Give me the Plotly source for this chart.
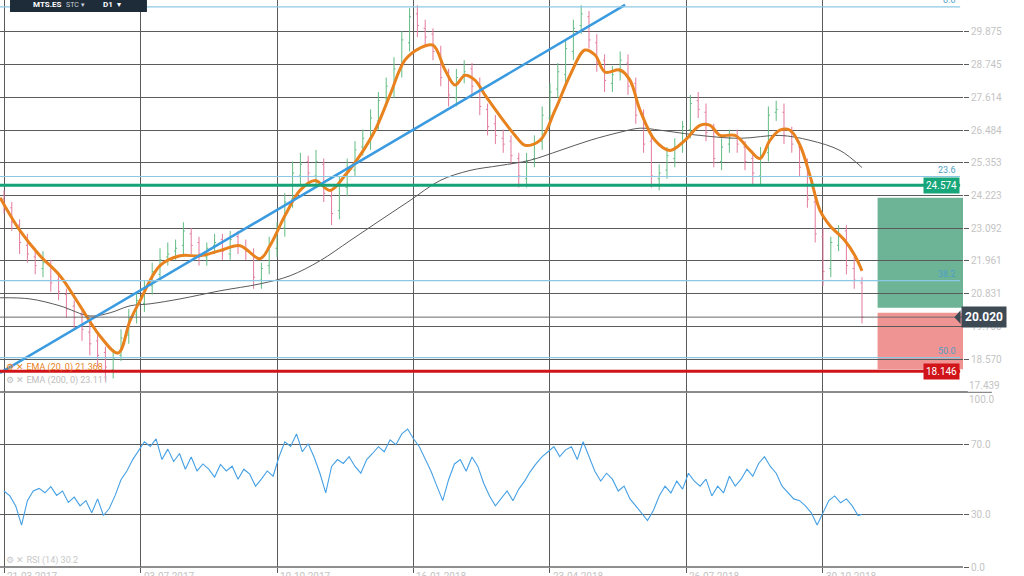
import plotly.graph_objects as go

# ---------------- data ----------------
bar_idx = list(range(0, 441, 4))
open_ = [24.1,23.8,23.2,22.5,22.1,21.7,21.8,21.3,20.8,20.4,
         20.1,19.5,19.2,18.8,18.2,18.7,19.4,20.1,20.5,21.1,
         21.5,22.1,22.3,22.5,22.9,22.6,22.1,22.5,22.7,22.2,
         22.8,22.4,22.2,21.3,21.8,22.4,23.1,24.1,24.9,25.4,
         24.9,25.3,24.2,23.7,24.5,25.1,25.9,26.1,26.8,27.6,
         27.9,28.7,29.5,30.5,30.0,29.8,29.1,28.4,27.6,28.4,
         28.6,28.1,27.2,26.7,26.2,26.1,25.5,24.8,25.5,26.1,
         26.9,27.9,28.4,29.2,30.1,30.4,29.5,28.9,28.1,28.5,
         28.8,28.1,26.9,26.1,24.8,25.1,25.5,26.0,26.5,27.5,
         27.1,26.5,25.4,26.0,26.3,25.9,25.5,24.9,25.7,27.1,
         27.1,26.4,25.9,25.3,24.0,22.8,21.7,22.5,23.0,21.7,
         21.2]
high = [24.4,24.0,23.4,22.9,22.4,22.3,22.0,21.5,21.0,20.6,
        20.3,19.8,19.4,19.0,18.9,19.6,20.3,20.9,21.3,21.9,
        22.4,22.6,22.7,23.3,23.1,22.8,22.6,22.9,22.9,23.0,
        23.0,22.7,22.4,21.9,22.8,23.3,24.3,25.4,25.7,25.6,
        25.8,25.5,24.4,24.9,25.5,26.1,26.5,27.2,27.8,28.3,
        29.0,29.9,30.7,30.8,30.3,30.0,29.4,28.6,28.6,28.9,
        28.8,28.3,27.4,27.0,26.5,26.3,25.7,25.7,26.3,27.3,
        28.1,28.8,29.6,30.3,30.8,30.6,29.8,29.1,28.7,29.2,
        29.1,28.3,27.2,26.3,25.3,25.9,26.2,26.8,27.7,27.8,
        27.4,26.7,26.2,26.5,26.5,26.1,25.7,25.9,27.3,27.5,
        27.4,26.6,26.1,25.5,24.2,23.1,22.8,23.2,23.2,22.1,
        21.4]
low = [23.6,23.0,22.2,21.9,21.5,21.4,20.9,20.6,20.0,19.6,
       19.2,18.7,18.3,17.8,17.9,18.5,19.1,19.8,20.2,20.8,
       21.3,21.8,22.0,22.2,22.2,21.8,21.8,22.2,22.0,22.0,
       22.2,22.0,21.0,21.0,21.5,22.1,22.8,23.8,24.6,24.7,
       24.6,24.0,23.2,23.4,24.2,24.9,25.6,25.8,26.5,27.3,
       27.6,28.3,29.2,29.7,29.4,28.9,28.0,27.3,27.3,28.1,
       27.7,27.0,26.3,26.0,25.7,25.3,24.5,24.5,25.2,25.8,
       26.6,27.6,28.1,28.9,29.8,29.3,28.5,27.8,27.8,28.2,
       27.7,26.7,25.7,24.5,24.4,24.8,25.2,25.7,26.2,26.9,
       26.1,25.2,25.1,25.7,25.7,25.1,24.6,24.6,25.4,26.8,
       26.0,25.7,24.9,23.8,22.6,21.1,21.4,22.3,21.5,21.0,
       19.8]
close = [23.9,23.3,22.6,22.2,21.8,21.9,21.2,20.9,20.3,20.0,
         19.6,19.1,18.7,18.3,18.6,19.3,20.0,20.6,21.0,21.6,
         22.0,22.2,22.4,23.0,22.5,22.2,22.4,22.6,22.3,22.7,
         22.5,22.3,21.4,21.7,22.5,23.0,24.0,25.0,25.3,25.0,
         25.4,24.3,23.6,24.6,25.2,25.8,26.2,26.9,27.5,28.0,
         28.6,29.6,30.4,30.1,29.7,29.2,28.3,27.7,28.3,28.5,
         28.0,27.3,26.6,26.3,26.0,25.6,24.9,25.4,26.0,27.0,
         27.8,28.5,29.3,30.0,30.5,29.6,28.8,28.2,28.4,28.9,
         28.0,27.0,26.0,24.9,25.0,25.6,25.9,26.6,27.4,27.2,
         26.4,25.5,25.9,26.2,26.0,25.4,25.0,25.6,27.0,27.2,
         26.3,26.0,25.2,24.1,22.9,21.6,22.6,22.9,21.8,21.3,
         20.02]

ema20_x = [-2,8.2,18.5,28.7,39,49.2,58.5,64.6,69.7,80,90.3,100.5,110.8,121,131.3,136.4,
           144.1,151.8,159.5,167.2,174.9,182.6,190.3,197.9,205.6,213.3,220,226.2,231.3,
           236.4,241.5,246.7,254.4,262.1,267.2,274.9,282.6,290.3,297.9,303.1,308.2,315.9,
           321,326.2,333.8,341.5,349.2,356.9,362.1,367.2,374.9,382.6,387.7,392.8,397.9,
           403.1,408.2,413.3,418.5,423.6,431.3,436.4,440]
ema20_y = [24.15,23.01,22.14,21.45,20.41,19.37,18.78,19.89,20.58,21.80,22.14,22.14,22.32,
           22.49,22.04,22.49,23.53,24.40,24.74,24.40,24.92,25.61,26.48,27.69,28.90,29.32,
           29.42,28.56,28.04,28.38,28.21,27.69,26.97,26.30,25.96,26.13,27.17,28.38,29.25,
           29.08,28.49,28.56,28.21,27.17,26.13,25.78,26.13,26.65,26.65,26.30,26.30,25.78,
           25.50,26.13,26.48,26.48,25.96,24.92,23.70,23.18,22.66,22.14,21.62]

ema200_x = [-2,13.3,28.7,44.1,54.4,64.6,74.9,90.3,110.8,131.3,146.7,162.1,177.4,192.8,
            208.2,223.6,239,254.4,269.7,285.1,300.5,315.9,326.2,336.4,356.9,377.4,397.9,
            413.3,428.7,440]
ema200_y = [20.69,20.65,20.41,20.06,20.17,20.41,20.48,20.65,20.93,21.17,21.45,21.97,22.66,
            23.36,24.05,24.74,25.09,25.26,25.44,25.78,26.13,26.41,26.55,26.48,26.30,26.20,
            26.30,26.13,25.78,25.19]

rsi_idx = list(range(0, 441, 3)) + [440]
rsi = [43.5,40.7,35,24,38,43.5,45,42.5,46,41,
       43.5,37,40,35,38,31,39,29.5,33.5,41,
       50,55,61.5,67,71.7,69,73.4,61.5,67.5,60.4,
       65,56,63,55,59,56,51.5,58.7,55,57.7,
       50.3,56,53.2,46.3,50.3,55,52,63,71.7,69,
       76.2,66,70.6,63,53.7,42.4,57.6,61.5,59.3,63.2,
       57.6,53.7,61.5,65,68.9,66,72.8,70,76.2,79,
       73.4,68.9,61.5,54.8,46.3,38,50,59,61.5,54.8,
       63,57.6,48,40.7,35,39,43.5,38,44.6,49.2,
       54.8,59.3,63.2,66,68.9,63.2,67.1,68.9,61.5,71.7,
       63.2,54.8,49.2,53.7,50.3,43.5,46.3,39,35,31,
       26.6,32.3,40.7,46.3,42.4,49.2,44.6,53.7,49.2,46.3,
       50.3,40.7,46.3,42.4,52,46.3,50.3,56,52,59.3,
       63.2,57.6,53.7,46.3,42.4,39,38,35,31,24,
       31,38,40.7,36.8,39,35,29.4,30.2]

trend_x = [-2, 318.5]
trend_y = [18.09, 30.81]

fib_levels = [30.74, 24.88, 21.28, 18.62]
fib_labels = ["0.0", "23.6", "38.2", "50.0"]

target_line = 24.574
stop_line = 18.146
last_price = 20.020
target_zone = [20.34, 24.15]
stop_zone = [18.22, 20.17]
zone_start = 448

price_ticks = [18.570, 19.700, 20.831, 21.961, 23.092, 24.223, 25.353,
               26.484, 27.614, 28.745, 29.875]
price_ticktext = ["18.570", "19.700", "20.831", "21.961", "23.092", "24.223",
                  "25.353", "26.484", "27.614", "28.745", "29.875"]
price_bottom_tick = 17.439
date_ticks = [0, 70, 140, 210, 280, 350, 420]
date_labels = ["21.03.2017", "03.07.2017", "10.10.2017", "16.01.2018",
               "23.04.2018", "26.07.2018", "30.10.2018"]
rsi_ticks = [0, 30, 70]
rsi_ticktext = ["0.0", "30.0", "70.0"]

# ---------------- figure ----------------
GRID = "#5b5b5b"
LBL = "#c4c4c4"
FONT = "Roboto"
PH = 567.0  # plot height in px

fig = go.Figure()

fig.add_trace(go.Ohlc(x=bar_idx, open=open_, high=high, low=low, close=close,
                      increasing=dict(line=dict(color="#62bd84", width=1)),
                      decreasing=dict(line=dict(color="#e37a9b", width=1)),
                      tickwidth=0.2,
                      xaxis="x", yaxis="y", showlegend=False, hoverinfo="skip"))
fig.add_trace(go.Scatter(x=ema200_x, y=ema200_y, mode="lines", line=dict(color="#5a5a5a", width=1),
                         line_shape="spline", xaxis="x", yaxis="y", showlegend=False))
fig.add_trace(go.Scatter(x=ema20_x, y=ema20_y, mode="lines", line=dict(color="#e8821e", width=3),
                         line_shape="spline", xaxis="x", yaxis="y", showlegend=False))
fig.add_trace(go.Scatter(x=trend_x, y=trend_y, mode="lines", line=dict(color="#3a9be0", width=2.5),
                         xaxis="x", yaxis="y", showlegend=False))
fig.add_trace(go.Scatter(x=rsi_idx, y=rsi, mode="lines", line=dict(color="#45a0e4", width=1.1),
                         xaxis="x2", yaxis="y2", showlegend=False))

shapes = []
shapes.append(dict(type="rect", xref="x", yref="y", x0=zone_start, x1=491.8,
                   y0=target_zone[0], y1=target_zone[1], fillcolor="#6db497",
                   line=dict(width=0), layer="below"))
shapes.append(dict(type="rect", xref="x", yref="y", x0=zone_start, x1=491.8,
                   y0=stop_zone[0], y1=stop_zone[1], fillcolor="#f09393",
                   line=dict(width=0), layer="below"))
for lv in fib_levels:
    shapes.append(dict(type="line", xref="paper", yref="y", x0=0, x1=0.997, y0=lv, y1=lv,
                       line=dict(color="#8cc8e4", width=1.2)))
shapes.append(dict(type="line", xref="paper", yref="y", x0=0, x1=1, y0=last_price, y1=last_price,
                   line=dict(color="#6a6a6a", width=1)))
shapes.append(dict(type="line", xref="paper", yref="y", x0=0, x1=0.997, y0=target_line, y1=target_line,
                   line=dict(color="#17a177", width=3)))
shapes.append(dict(type="line", xref="paper", yref="y", x0=0, x1=0.997, y0=stop_line, y1=stop_line,
                   line=dict(color="#d0141a", width=3)))
shapes.append(dict(type="line", xref="paper", yref="y", x0=0, x1=1.005, y0=price_bottom_tick,
                   y1=price_bottom_tick, line=dict(color=GRID, width=1)))
shapes.append(dict(type="line", xref="paper", yref="paper", x0=0, x1=1.03, y0=0.308, y1=0.308,
                   line=dict(color="#8a8a8a", width=1.2)))
shapes.append(dict(type="line", xref="paper", yref="paper", x0=0, x1=1.0, y0=0, y1=0,
                   line=dict(color="#6a6a6a", width=1.5)))
# header box
shapes.append(dict(type="rect", xref="paper", yref="paper", x0=0.0104, x1=0.1526, y0=1 - 12 / PH, y1=1.01,
                   fillcolor="#1e2c3a", line=dict(width=0)))
# arrow of last price tag
shapes.append(dict(type="path", xref="paper", yref="y",
                   path="M 0.9975 %.3f L 0.991 %.3f L 0.9975 %.3f Z" % (last_price + 0.24, last_price, last_price - 0.24),
                   fillcolor="#3d4a54", line=dict(width=0)))

ann = []
for lv, lb in zip(fib_levels, fib_labels):
    ann.append(dict(x=0.995, xref="paper", y=lv, yref="y", text=lb, showarrow=False,
                    xanchor="right", yanchor="bottom", font=dict(size=9, color="#4f9ec6", family=FONT)))
ann.append(dict(x=0.997, xref="paper", y=target_line, yref="y", text="24.574", showarrow=False,
                xanchor="right", yanchor="middle", bgcolor="#16a679", borderpad=2,
                font=dict(size=10, color="white", family=FONT)))
ann.append(dict(x=0.997, xref="paper", y=stop_line, yref="y", text="18.146", showarrow=False,
                xanchor="right", yanchor="middle", bgcolor="#d0141a", borderpad=2,
                font=dict(size=10, color="white", family=FONT)))
ann.append(dict(x=0.9975, xref="paper", y=last_price, yref="y", text="<b>20.020</b>", showarrow=False,
                xanchor="left", yanchor="middle", bgcolor="#3d4a54", borderpad=3,
                font=dict(size=12, color="white", family=FONT)))
ann.append(dict(x=1.004, xref="paper", y=(PH - 385) / PH, yref="paper", text="17.439", showarrow=False,
                xanchor="left", yanchor="middle", font=dict(size=10, color=LBL, family=FONT)))
ann.append(dict(x=1.004, xref="paper", y=(PH - 399) / PH, yref="paper", text="100.0", showarrow=False,
                xanchor="left", yanchor="middle", font=dict(size=10, color=LBL, family=FONT)))
ann.append(dict(x=0.032, xref="paper", y=1 - 5 / PH, yref="paper", text="<b>MTS.ES</b>", showarrow=False,
                xanchor="left", yanchor="middle", font=dict(size=8, color="white", family=FONT)))
ann.append(dict(x=0.066, xref="paper", y=1 - 5 / PH, yref="paper", text="STC ▾", showarrow=False,
                xanchor="left", yanchor="middle", font=dict(size=7, color="#c8d0d8", family=FONT)))
ann.append(dict(x=0.105, xref="paper", y=1 - 5 / PH, yref="paper", text="<b>D1</b>  ▾", showarrow=False,
                xanchor="left", yanchor="middle", font=dict(size=8, color="white", family=FONT)))
ann.append(dict(x=0.004, xref="paper", y=(PH - 367) / PH, yref="paper",
                text="⚙ ✕ EMA (20, 0) 21.368", showarrow=False, xanchor="left", yanchor="middle",
                font=dict(size=9, color="#e8821e", family=FONT)))
ann.append(dict(x=0.004, xref="paper", y=(PH - 380) / PH, yref="paper",
                text="⚙ ✕ EMA (200, 0) 23.111", showarrow=False, xanchor="left", yanchor="middle",
                font=dict(size=9, color="#bdbdbd", family=FONT)))
ann.append(dict(x=0.004, xref="paper", y=(PH - 560) / PH, yref="paper",
                text="⚙ ✕ RSI (14) 30.2", showarrow=False, xanchor="left", yanchor="middle",
                font=dict(size=9, color="#c8c8c8", family=FONT)))
for tv, tl in zip(date_ticks, date_labels):
    ann.append(dict(x=tv, xref="x2", y=-2 / PH, yref="paper", text=tl, showarrow=False,
                    xanchor="left", yanchor="top", xshift=1,
                    font=dict(size=10, color=LBL, family=FONT)))

fig.update_layout(
    width=1024, height=576,
    margin=dict(l=0, r=61, t=0, b=9, autoexpand=False),
    paper_bgcolor="white", plot_bgcolor="white",
    font=dict(family=FONT, size=10, color=LBL),
    showlegend=False,
    shapes=shapes, annotations=ann,
    xaxis=dict(domain=[0, 1], anchor="y", range=[-2.05, 491.8], tickvals=date_ticks,
               showticklabels=False, showgrid=True, gridcolor=GRID, gridwidth=1,
               zeroline=False, rangeslider=dict(visible=False), showline=False, automargin=False),
    xaxis2=dict(domain=[0, 1], anchor="y2", range=[-2.05, 491.8], matches="x",
                tickvals=date_ticks, showticklabels=False, showgrid=True, gridcolor=GRID,
                gridwidth=1, zeroline=False, ticks="outside", ticklen=5, tickcolor=GRID,
                automargin=False),
    yaxis=dict(domain=[0.308, 1], anchor="x", side="right", range=[17.42, 30.98],
               tickvals=price_ticks, ticktext=price_ticktext, showgrid=True, gridcolor=GRID,
               gridwidth=1, zeroline=False, ticks="outside", ticklen=5, tickcolor=GRID,
               automargin=False, tickfont=dict(size=10, color=LBL, family=FONT)),
    yaxis2=dict(domain=[0, 0.308], anchor="x2", side="right", range=[0, 100],
                tickvals=rsi_ticks, ticktext=rsi_ticktext, showgrid=True, gridcolor=GRID,
                gridwidth=1, zeroline=False, ticks="outside", ticklen=5, tickcolor=GRID,
                automargin=False, tickfont=dict(size=10, color=LBL, family=FONT)),
)

fig.write_html("out.html", config={"displayModeBar": False},
               post_script="document.body.style.margin='0';document.body.style.overflow='hidden';")
